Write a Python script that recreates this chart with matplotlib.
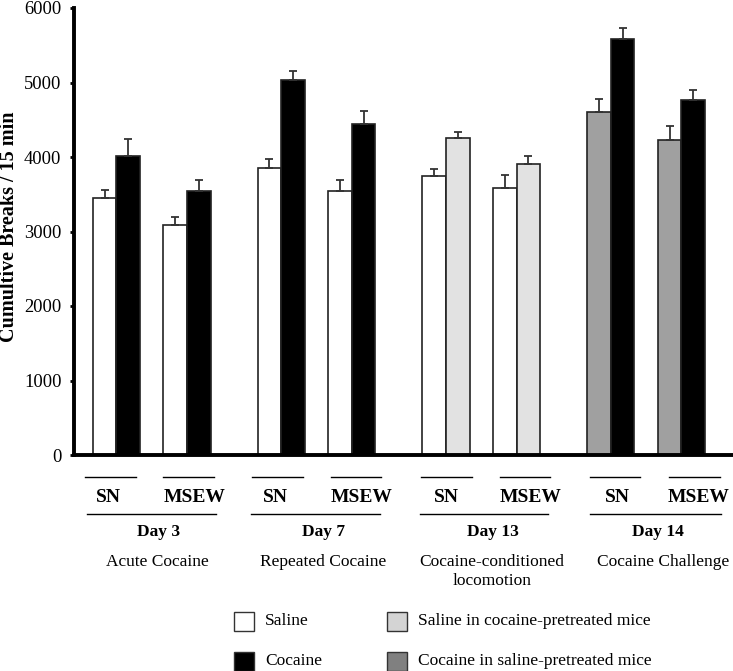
import numpy as np
import matplotlib.pyplot as plt
from matplotlib.lines import Line2D
from matplotlib.patches import Rectangle

plt.rcParams['font.family'] = ['Liberation Serif', 'DejaVu Serif']

# data
groups = ['Day 3 SN', 'Day 3 MSEW', 'Day 7 SN', 'Day 7 MSEW',
          'Day 13 SN', 'Day 13 MSEW', 'Day 14 SN', 'Day 14 MSEW']
first_vals = [3450, 3090, 3850, 3550, 3750, 3590, 4600, 4230]
first_err = [110, 100, 125, 140, 95, 170, 175, 185]
second_vals = [4010, 3540, 5030, 4440, 4250, 3910, 5580, 4770]
second_err = [230, 150, 125, 175, 80, 100, 150, 125]

c_sal, c_coc, c_lt, c_dk = 'white', 'black', '#e2e2e2', '#a0a0a0'
first_colors = [c_sal] * 6 + [c_dk] * 2
second_colors = [c_coc] * 4 + [c_lt] * 2 + [c_coc] * 2

W, H = 733, 671
fig = plt.figure(figsize=(W / 100, H / 100), dpi=100)
ax = fig.add_axes([74 / W, 1 - 455 / H, (W - 74) / W + 0.01, 447 / H])

# pair positions: 3 units apart within a day, 4 units between days
pair_left = np.array([0, 3, 7, 10, 14, 17, 21, 24])
bw = 1.0
zeros = [0] * len(groups)
ax.bar(pair_left + 0.5, first_vals, bw, color=first_colors, edgecolor='#222222',
       linewidth=1.2, yerr=[zeros, first_err], capsize=3,
       error_kw=dict(ecolor='#333333', elinewidth=1.3, capthick=1.3), zorder=2)
ax.bar(pair_left + 1.5, second_vals, bw, color=second_colors, edgecolor='#222222',
       linewidth=1.2, yerr=[zeros, second_err], capsize=3,
       error_kw=dict(ecolor='#333333', elinewidth=1.3, capthick=1.3), zorder=2)

ax.set_xlim(-0.8, 27.5)
ax.set_ylim(0, 6000)
ax.set_yticks(np.arange(0, 6001, 1000))
ax.tick_params(axis='y', labelsize=13.3, length=3, width=2, direction='out', pad=6)
ax.set_xticks([])
for s in ['top', 'right']:
    ax.spines[s].set_visible(False)
ax.spines['left'].set_linewidth(2.8)
ax.spines['bottom'].set_linewidth(2.8)

fig.text(9 / W, 1 - 227 / H, 'Cumultive Breaks / 15 min', rotation=90,
         ha='center', va='center', fontsize=14.5, fontweight='bold')


def px(x, y):
    return x / W, 1 - y / H


def hline(x0, x1, y):
    a, b = px(x0, y)
    c, _ = px(x1, y)
    fig.add_artist(Line2D([a, c], [b, b], color='black', linewidth=1.0))


# group annotations below the axis
short_lines = [(85, 136), (163, 214), (252, 303), (331, 381),
               (421, 472), (500, 550), (590, 640), (669, 720)]
for x0, x1 in short_lines:
    hline(x0, x1, 477)

sub_x = [108, 195, 275, 362, 446, 531, 617, 699]
sub_lab = ['SN', 'MSEW'] * 4
for x, t in zip(sub_x, sub_lab):
    fig.text(*px(x, 498), t, ha='center', va='center', fontsize=14, fontweight='bold')

long_lines = [(87, 216), (251, 380), (420, 548), (590, 721)]
for x0, x1 in long_lines:
    hline(x0, x1, 514)

day_x = [159, 323, 493, 658]
day_lab = ['Day 3', 'Day 7', 'Day 13', 'Day 14']
for x, t in zip(day_x, day_lab):
    fig.text(*px(x, 532), t, ha='center', va='center', fontsize=12.5, fontweight='bold')

desc_x = [157, 323, 492, 663]
desc_lab = ['Acute Cocaine', 'Repeated Cocaine', 'Cocaine-conditioned\nlocomotion',
            'Cocaine Challenge']
for x, t in zip(desc_x, desc_lab):
    fig.text(*px(x, 554), t, ha='center', va='top', fontsize=12.5, linespacing=1.25)

# legend
leg = [(234, 612, c_sal, 'Saline'), (234, 652, c_coc, 'Cocaine'),
       (387, 612, '#d4d4d4', 'Saline in cocaine-pretreated mice'),
       (387, 652, '#808080', 'Cocaine in saline-pretreated mice')]
for x, y, c, t in leg:
    a, b = px(x, y + 19)
    fig.add_artist(Rectangle((a, b), 20 / W, 19 / H, facecolor=c,
                             edgecolor='#333333', linewidth=1.0,
                             transform=fig.transFigure))
    fig.text(*px(x + 31, y + 9), t, ha='left', va='center', fontsize=12.5)

fig.savefig('out.png', dpi=100)
